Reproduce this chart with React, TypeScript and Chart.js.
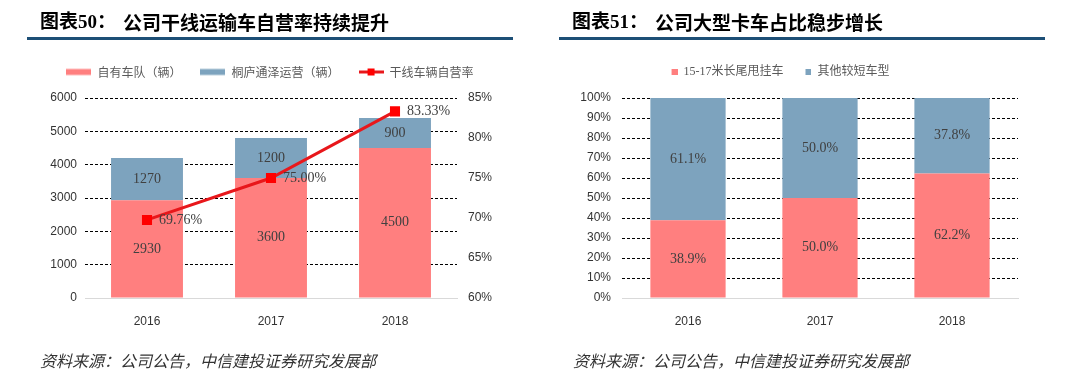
import React, { useEffect, useRef } from "react";
import { Chart, registerables } from "chart.js";

Chart.register(...registerables);

// ---- Data ----
const years = ["2016", "2017", "2018"];
const ownFleet = [2930, 3600, 4500];
const tongluFleet = [1270, 1200, 900];
const selfRate = [69.76, 75.0, 83.33];
const leftTicksMax = 6000;
const rateMin = 60;
const rateMax = 85;

const longTrailerShare = [38.9, 50.0, 62.2];
const shortTruckShare = [61.1, 50.0, 37.8];

const leftLegend = ["自有车队（辆）", "桐庐通泽运营（辆）", "干线车辆自营率"];
const rightLegend = ["15-17米长尾甩挂车", "其他较短车型"];

const title1a = "图表50：";
const title1b = "公司干线运输车自营率持续提升";
const title2a = "图表51：";
const title2b = "公司大型卡车占比稳步增长";
const sourceText = "资料来源：公司公告，中信建投证券研究发展部";

// ---- Styles ----
const PINK = "#FF7F7F";
const BLUE = "#7DA3BE";
const RED = "#E8171B";
const TICK_COLOR = "#333333";
const LABEL_COLOR = "#404040";
const SANS = '"Liberation Sans", Arial, sans-serif';
const SERIF = '"Liberation Serif", "Noto Sans CJK SC", serif';
const CJK = '"Noto Sans CJK SC", sans-serif';

function rectIcon(color: string, lead: number, w: number, h: number, H: number) {
  const c = document.createElement("canvas");
  c.width = lead + w;
  c.height = H;
  const ctx = c.getContext("2d")!;
  ctx.fillStyle = color;
  ctx.fillRect(lead, (H - h) / 2, w, h);
  return c;
}

function lineIcon(lead: number) {
  const c = document.createElement("canvas");
  c.width = lead + 25;
  c.height = 9;
  const ctx = c.getContext("2d")!;
  ctx.fillStyle = RED;
  ctx.fillRect(lead, 3, 25, 3);
  ctx.fillStyle = "#FF0000";
  ctx.fillRect(lead + 9, 1, 7, 7);
  return c;
}

function gridColor(ctx: any) {
  return ctx.tick && ctx.tick.value === 0 ? "rgba(0,0,0,0)" : "#000000";
}

// Adds extra space below the legend (between legend and plot area)
function legendGap(extra: number) {
  return {
    id: "legendGap",
    afterInit(chart: any) {
      const lg = chart.legend;
      if (!lg) return;
      const orig = lg.fit.bind(lg);
      lg.fit = function () {
        orig();
        this.height += extra;
      };
    },
  };
}

function LeftChart() {
  const ref = useRef<HTMLCanvasElement>(null);
  useEffect(() => {
    const icons = [rectIcon(PINK, 0, 25, 6, 9), rectIcon(BLUE, 0, 25, 6, 9), lineIcon(0)];
    const labelPlugin = {
      id: "leftLabels",
      afterDatasetsDraw(chart: any) {
        const ctx = chart.ctx;
        ctx.save();
        ctx.font = `14px ${SERIF}`;
        ctx.fillStyle = LABEL_COLOR;
        chart.data.datasets.forEach((ds: any, di: number) => {
          const meta = chart.getDatasetMeta(di);
          meta.data.forEach((el: any, i: number) => {
            const v = ds.data[i];
            if (ds.type === "line") {
              ctx.textAlign = "left";
              ctx.textBaseline = "middle";
              ctx.fillText(v.toFixed(2) + "%", el.x + 12, el.y);
            } else {
              ctx.textAlign = "center";
              ctx.textBaseline = "middle";
              ctx.fillText(String(v), el.x, (el.y + el.base) / 2);
            }
          });
        });
        ctx.restore();
      },
    };
    const chart = new Chart(ref.current!, {
      type: "bar",
      data: {
        labels: years,
        datasets: [
          { type: "bar", label: leftLegend[0], data: ownFleet, backgroundColor: PINK, yAxisID: "y", stack: "s", order: 1, barPercentage: 0.58, categoryPercentage: 1 } as any,
          { type: "bar", label: leftLegend[1], data: tongluFleet, backgroundColor: BLUE, yAxisID: "y", stack: "s", order: 1, barPercentage: 0.58, categoryPercentage: 1 } as any,
          { type: "line", label: leftLegend[2], data: selfRate, yAxisID: "y1", borderColor: RED, borderWidth: 3, pointStyle: "rect", pointRadius: 5, pointBackgroundColor: "#FF0000", pointBorderColor: "#FF0000", order: 0, tension: 0 } as any,
        ],
      },
      options: {
        responsive: false,
        maintainAspectRatio: false,
        animation: false,
        layout: { padding: { top: 47, left: 0, right: 0, bottom: 0 } },
        plugins: {
          tooltip: { enabled: false },
          legend: {
            position: "top",
            labels: {
              usePointStyle: true,
              pointStyleWidth: 25,
              padding: 19,
              font: { family: CJK, size: 12 },
              color: "#595959",
              generateLabels: (ch: any) =>
                ch.data.datasets.map((ds: any, i: number) => ({
                  text: ds.label,
                  pointStyle: icons[i],
                  datasetIndex: i,
                  hidden: false,
                  fillStyle: "rgba(0,0,0,0)",
                  strokeStyle: "rgba(0,0,0,0)",
                  lineWidth: 0,
                  fontColor: "#595959",
                })),
            },
          },
        },
        scales: {
          x: {
            stacked: true,
            grid: { display: false },
            border: { display: true, color: "#D9D9D9", width: 1 },
            ticks: { color: TICK_COLOR, font: { family: SANS, size: 12 }, padding: 8 },
            afterFit: (s: any) => { s.height = 77; },
          },
          y: {
            stacked: true,
            min: 0,
            max: leftTicksMax,
            position: "left",
            grid: { color: gridColor, drawTicks: false, lineWidth: 1 },
            border: { display: false, dash: [3, 2] },
            ticks: { stepSize: 1000, color: TICK_COLOR, font: { family: SANS, size: 12 }, padding: 8, callback: (v: any) => String(v) },
            afterFit: (s: any) => { s.width = 85; },
          },
          y1: {
            min: rateMin,
            max: rateMax,
            position: "right",
            grid: { display: false, drawTicks: false },
            border: { display: false },
            ticks: { stepSize: 5, color: TICK_COLOR, font: { family: SANS, size: 12 }, padding: 11, callback: (v: any) => v + "%" },
            afterFit: (s: any) => { s.width = 83; },
          },
        },
      } as any,
      plugins: [legendGap(10), labelPlugin],
    });
    return () => chart.destroy();
  }, []);
  return <canvas ref={ref} width={540} height={375} style={{ position: "absolute", left: 0, top: 0, width: 540, height: 375 }} />;
}

function RightChart() {
  const ref = useRef<HTMLCanvasElement>(null);
  useEffect(() => {
    const icons = [rectIcon(PINK, 3, 6, 6, 6), rectIcon(BLUE, 3, 6, 6, 6)];
    const labelPlugin = {
      id: "rightLabels",
      afterDatasetsDraw(chart: any) {
        const ctx = chart.ctx;
        ctx.save();
        ctx.font = `14px ${SERIF}`;
        ctx.fillStyle = LABEL_COLOR;
        ctx.textAlign = "center";
        ctx.textBaseline = "middle";
        chart.data.datasets.forEach((ds: any, di: number) => {
          const meta = chart.getDatasetMeta(di);
          meta.data.forEach((el: any, i: number) => {
            ctx.fillText(ds.data[i].toFixed(1) + "%", el.x, (el.y + el.base) / 2);
          });
        });
        ctx.restore();
      },
    };
    const chart = new Chart(ref.current!, {
      type: "bar",
      data: {
        labels: years,
        datasets: [
          { label: rightLegend[0], data: longTrailerShare, backgroundColor: PINK, barPercentage: 0.57, categoryPercentage: 1 } as any,
          { label: rightLegend[1], data: shortTruckShare, backgroundColor: BLUE, barPercentage: 0.57, categoryPercentage: 1 } as any,
        ],
      },
      options: {
        responsive: false,
        maintainAspectRatio: false,
        animation: false,
        layout: { padding: { top: 47, left: 0, right: 62, bottom: 0 } },
        plugins: {
          tooltip: { enabled: false },
          legend: {
            position: "top",
            labels: {
              usePointStyle: true,
              pointStyleWidth: 9,
              padding: 19,
              font: { family: SERIF, size: 12 },
              color: "#595959",
              generateLabels: (ch: any) =>
                ch.data.datasets.map((ds: any, i: number) => ({
                  text: ds.label,
                  pointStyle: icons[i],
                  datasetIndex: i,
                  hidden: false,
                  fillStyle: "rgba(0,0,0,0)",
                  strokeStyle: "rgba(0,0,0,0)",
                  lineWidth: 0,
                  fontColor: "#595959",
                })),
            },
          },
        },
        scales: {
          x: {
            stacked: true,
            grid: { display: false },
            border: { display: true, color: "#D9D9D9", width: 1 },
            ticks: { color: TICK_COLOR, font: { family: SANS, size: 12 }, padding: 8 },
            afterFit: (s: any) => { s.height = 77; },
          },
          y: {
            stacked: true,
            min: 0,
            max: 100,
            grid: { color: gridColor, drawTicks: false, lineWidth: 1 },
            border: { display: false, dash: [3, 2] },
            ticks: { stepSize: 10, color: TICK_COLOR, font: { family: SANS, size: 12 }, padding: 11, callback: (v: any) => v + "%" },
            afterFit: (s: any) => { s.width = 82; },
          },
        },
      } as any,
      plugins: [legendGap(10), labelPlugin],
    });
    return () => chart.destroy();
  }, []);
  return <canvas ref={ref} width={540} height={375} style={{ position: "absolute", left: 0, top: 0, width: 540, height: 375 }} />;
}

const titleStyle: React.CSSProperties = {
  position: "absolute",
  top: 11,
  fontFamily: '"Liberation Serif", "Noto Sans CJK SC", serif',
  fontWeight: "bold",
  fontSize: 19,
  lineHeight: "21px",
  color: "#000",
  whiteSpace: "nowrap",
};
const titleStyleCJK: React.CSSProperties = { ...titleStyle, fontFamily: CJK };
const ruleStyle: React.CSSProperties = { position: "absolute", top: 37, height: 3, background: "#1D4F76" };
const srcStyle: React.CSSProperties = {
  position: "absolute",
  top: 351,
  fontFamily: CJK,
  fontStyle: "italic",
  fontSize: 16,
  lineHeight: "18px",
  color: "#333",
  whiteSpace: "nowrap",
};

export default function App() {
  return (
    <div style={{ position: "absolute", left: 0, top: 0, width: 1080, height: 375, background: "#fff", overflow: "hidden" }}>
      <div style={{ position: "absolute", left: 0, top: 0, width: 540, height: 375 }}>
        <LeftChart />
      </div>
      <div style={{ position: "absolute", left: 540, top: 0, width: 540, height: 375 }}>
        <RightChart />
      </div>
      <div style={{ ...titleStyle, left: 40 }}>{title1a}</div>
      <div style={{ ...titleStyleCJK, left: 123 }}>{title1b}</div>
      <div style={{ ...ruleStyle, left: 27, width: 486 }} />
      <div style={{ ...titleStyle, left: 572 }}>{title2a}</div>
      <div style={{ ...titleStyleCJK, left: 655 }}>{title2b}</div>
      <div style={{ ...ruleStyle, left: 559, width: 486 }} />
      <div style={{ ...srcStyle, left: 40 }}>{sourceText}</div>
      <div style={{ ...srcStyle, left: 573 }}>{sourceText}</div>
    </div>
  );
}
